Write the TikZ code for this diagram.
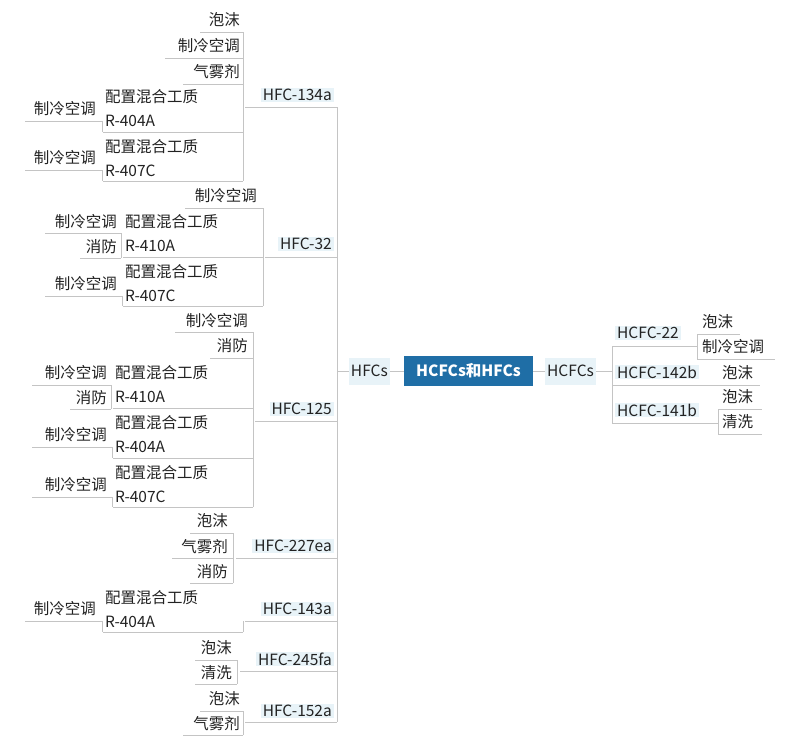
\documentclass[tikz,border=0pt]{standalone}
\usepackage{fontspec}
\setmainfont{Noto Sans CJK SC}
\definecolor{lite}{HTML}{E8F3F8}
\definecolor{blu}{HTML}{1F6EA6}
\definecolor{lin}{HTML}{C4C4C4}
\definecolor{ink}{HTML}{222222}
\tikzset{txt/.style={inner sep=1pt,text=ink,font=\fontsize{15.5}{24}\selectfont,align=left},
 hl/.style={txt,fill=lite,inner xsep=2pt},
 ln/.style={draw=lin,line width=0.9pt}}
\newcommand\tR[4]{\node[txt,anchor=east] (#1) at (#2,#3) {#4};}
\newcommand\tL[4]{\node[txt,anchor=west] (#1) at (#2,#3) {#4};}
\newcommand\hR[4]{\node[hl,anchor=east] (#1) at (#2,#3) {#4};}
\newcommand\ul[3]{\draw[ln] (#1,#3) -- (#2,#3);}
\newcommand\vl[3]{\draw[ln] (#1,#2) -- (#1,#3);}
\begin{document}
\begin{tikzpicture}[x=1pt,y=-1pt]
\useasboundingbox (0,0) rectangle (788,750);
% center
\node[fill=blu,text=white,font=\fontsize{15.5}{20}\selectfont\bfseries,minimum width=129pt,minimum height=30pt,inner sep=2pt] (root) at (468.5,371) {HCFCs和HFCs};
\node[hl,anchor=east,minimum height=27pt] (hfcs) at (390,371) {HFCs};
\node[hl,anchor=west,minimum height=27pt] (hcfcs) at (545,371) {HCFCs};
\draw[ln] (hfcs.east) -- (root.west);
\draw[ln] (root.east) -- (hcfcs.west);
\draw[ln] (hfcs.west) -- (337,371);
\draw[ln] (hcfcs.east) -- (612,371);
% trunk
\vl{337}{107}{722}
% HFC-134a
\hR{a}{334}{95}{HFC-134a} \ul{245}{337}{107}
\vl{243}{32}{181}
\tR{a1}{241}{20}{泡沫} \ul{200}{243}{32}
\tR{a2}{241}{46}{制冷空调} \ul{165}{243}{58}
\tR{a3}{241}{72}{气雾剂} \ul{183}{243}{84}
\tL{a4}{104}{108}{配置混合工质\\R-404A} \ul{103}{243}{132}
\tL{a5}{104}{158}{配置混合工质\\R-407C} \ul{103}{243}{181}
\tR{a41}{97}{109}{制冷空调} \ul{25}{102}{121} \vl{102}{121}{132}
\tR{a51}{97}{158}{制冷空调} \ul{25}{102}{170} \vl{102}{170}{181}
% HFC-32
\hR{b}{334}{244}{HFC-32} \ul{265}{337}{257}
\vl{263}{208}{306}
\tR{b1}{258}{196}{制冷空调} \ul{185}{263}{208}
\tL{b2}{124}{233}{配置混合工质\\R-410A} \ul{123}{263}{257}
\tL{b3}{124}{283}{配置混合工质\\R-407C} \ul{123}{263}{306}
\tR{b21}{118}{222}{制冷空调} \ul{45}{121}{233}
\tR{b22}{118}{247}{消防} \ul{80}{121}{258} \vl{121}{233}{258}
\tR{b31}{118}{284}{制冷空调} \ul{45}{122}{296} \vl{122}{296}{306}
% HFC-125
\hR{c}{334}{409}{HFC-125} \ul{255}{337}{421}
\vl{253}{332}{507}
\tR{c1}{249}{321}{制冷空调} \ul{175}{253}{332}
\tR{c2}{249}{346}{消防} \ul{210}{253}{358}
\tL{c3}{114}{384}{配置混合工质\\R-410A} \ul{113}{253}{408}
\tL{c4}{114}{434}{配置混合工质\\R-404A} \ul{113}{253}{458}
\tL{c5}{114}{484}{配置混合工质\\R-407C} \ul{113}{253}{507}
\tR{c31}{108}{373}{制冷空调} \ul{32}{111}{385}
\tR{c32}{108}{398}{消防} \ul{70}{111}{409} \vl{111}{385}{409}
\tR{c41}{108}{435}{制冷空调} \ul{32}{112}{447} \vl{112}{447}{458}
\tR{c51}{108}{485}{制冷空调} \ul{32}{112}{497} \vl{112}{497}{507}
% HFC-227ea
\hR{d}{334}{546}{HFC-227ea} \ul{236}{337}{558}
\vl{233}{533}{583}
\tR{d1}{229}{521}{泡沫} \ul{190}{233}{533}
\tR{d2}{229}{547}{气雾剂} \ul{172}{233}{558}
\tR{d3}{229}{572}{消防} \ul{190}{233}{583}
% HFC-143a
\hR{e}{334}{609}{HFC-143a} \ul{245}{337}{621}
\vl{243}{621}{632}
\tL{e1}{104}{609}{配置混合工质\\R-404A} \ul{103}{243}{632}
\tR{e11}{97}{609}{制冷空调} \ul{25}{102}{621} \vl{102}{621}{632}
% HFC-245fa
\hR{f}{334}{659}{HFC-245fa} \ul{240}{337}{671}
\vl{237}{660}{684}
\tR{f1}{233}{648}{泡沫} \ul{195}{237}{660}
\tR{f2}{233}{673}{清洗} \ul{195}{237}{684}
% HFC-152a
\hR{g}{334}{711}{HFC-152a} \ul{245}{337}{722}
\vl{243}{711}{735}
\tR{g1}{241}{699}{泡沫} \ul{200}{243}{711}
\tR{g2}{241}{724}{气雾剂} \ul{183}{243}{735}
% HCFCs side
\vl{612}{346}{423}
\node[hl,anchor=west] (h1) at (615,333) {HCFC-22}; \ul{612}{697}{346}
\vl{697}{334}{359}
\tL{h11}{701}{322}{泡沫} \ul{697}{740}{334}
\tL{h12}{701}{347}{制冷空调} \ul{697}{775}{359}
\node[hl,anchor=west] (h2) at (615,372) {HCFC-142b}; \ul{612}{760}{385}
\tL{h21}{721}{373}{泡沫}
\node[hl,anchor=west] (h3) at (615,410) {HCFC-141b}; \ul{612}{718}{423}
\vl{718}{409}{434}
\tL{h31}{721}{397}{泡沫} \ul{718}{762}{409}
\tL{h32}{721}{422}{清洗} \ul{718}{762}{434}
\end{tikzpicture}
\end{document}
